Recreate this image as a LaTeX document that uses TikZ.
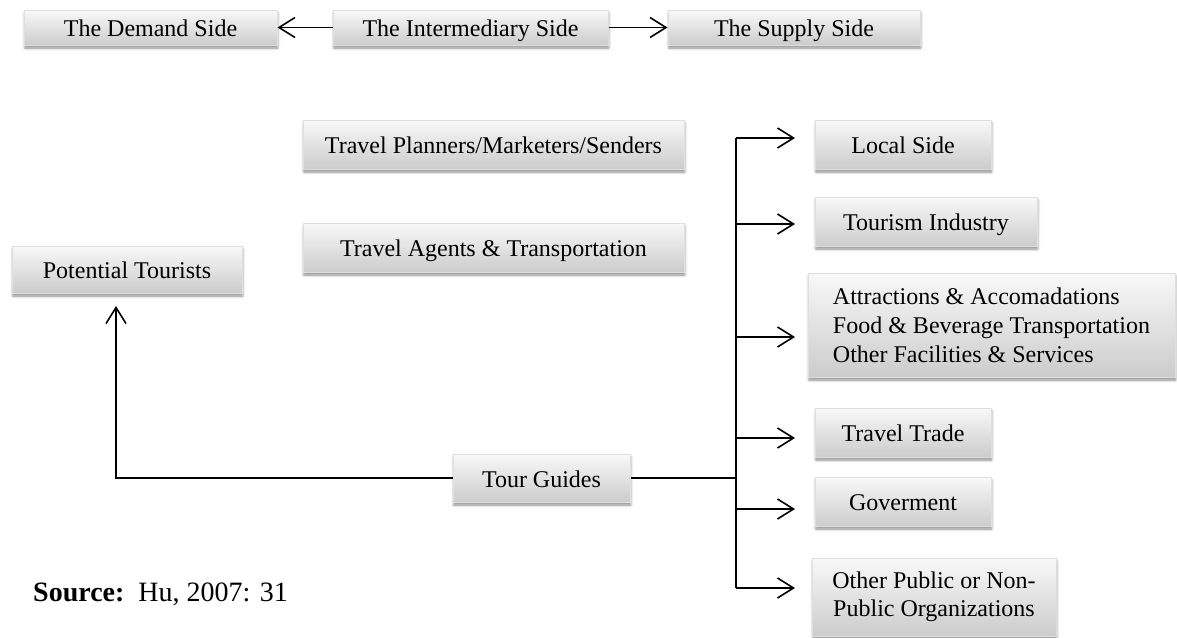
\documentclass[tikz,border=0pt]{standalone}
\usepackage{fontspec}
\setmainfont{Liberation Serif}
\usetikzlibrary{arrows.meta,shadows.blur}

\tikzset{
  box/.style={draw=gray!25, line width=1pt, top color=gray!5, bottom color=gray!40,
    blur shadow={shadow xshift=0.8pt, shadow yshift=-3pt, shadow blur radius=2.5pt, shadow opacity=45},
    inner sep=0pt, align=center, font=\fontsize{24}{28}\selectfont},
  oneline/.style={box, text height=19pt, text depth=1pt},
  link/.style={line width=1.6pt, draw=black},
  arr/.style={link, -{Straight Barb[length=16pt,width=20pt,line width=1.6pt]}},
}

\begin{document}
\begin{tikzpicture}[x=1pt, y=-1pt]
\useasboundingbox (0,0) rectangle (1177,637);

% top row: the three sides
\node[oneline, minimum width=253pt, minimum height=35pt] (demand) at (150.5,27.5) {The Demand Side};
\node[oneline, minimum width=275pt, minimum height=35pt] (inter)  at (470.5,27.5) {The Intermediary Side};
\node[oneline, minimum width=252pt, minimum height=35pt] (supply) at (794,27.5)   {The Supply Side};
\draw[arr] (inter.west) -- (demand.east);
\draw[arr] (inter.east) -- (supply.west);

% intermediary and demand side
\node[oneline, minimum width=381pt, minimum height=49pt] (planners) at (493.5,144.5) {Travel Planners/Marketers/Senders};
\node[oneline, minimum width=381pt, minimum height=49pt] (agents)   at (493.5,247.5) {Travel Agents \& Transportation};
\node[oneline, minimum width=230pt, minimum height=47pt] (potential) at (127,269.5) {Potential Tourists};
\node[oneline, minimum width=177pt, minimum height=48pt] (tour) at (541.5,478) {Tour Guides};

% supply side
\node[oneline, minimum width=176pt, minimum height=49pt] (local)   at (903,144.5) {Local Side};
\node[oneline, minimum width=222pt, minimum height=49pt] (tourism) at (926,221.5) {Tourism Industry};
\node[box, minimum width=367pt, minimum height=104pt, align=left,
      font=\fontsize{24}{29}\selectfont] (attr) at (991.5,325)
  {Attractions \& Accomadations\\Food \& Beverage Transportation\\Other Facilities \& Services};
\node[oneline, minimum width=176pt, minimum height=49pt] (trade) at (903,432.5) {Travel Trade};
\node[oneline, minimum width=176pt, minimum height=49pt] (gov)   at (903,501.5) {Goverment};
\node[box, minimum width=244pt, minimum height=78pt] (other) at (934,597)
  {Other Public or Non-\\Public Organizations};

% tour guides to potential tourists
\coordinate (ptip) at (116,306);
\draw[arr] (tour.west) -| (ptip);

% tour guides to the supply side branches
\coordinate (bLocal)   at (736,138);
\coordinate (bTourism) at (736,224);
\coordinate (bAttr)    at (736,337);
\coordinate (bTrade)   at (736,438);
\coordinate (bGov)     at (736,509);
\coordinate (bOther)   at (736,588);
\draw[link] (tour.east) -- (tour.east -| bLocal);
\draw[link] (bLocal) -- (bOther);
\foreach \b in {bLocal,bTourism,bAttr,bTrade,bGov,bOther}
  \draw[arr] (\b) -- ++(59,0);

% source line
\node[anchor=west, font=\fontsize{28}{32}\selectfont, inner sep=0pt] (source) at (33,594)
  {\textbf{Source:}\ \ Hu, 2007: 31};
\end{tikzpicture}
\end{document}
